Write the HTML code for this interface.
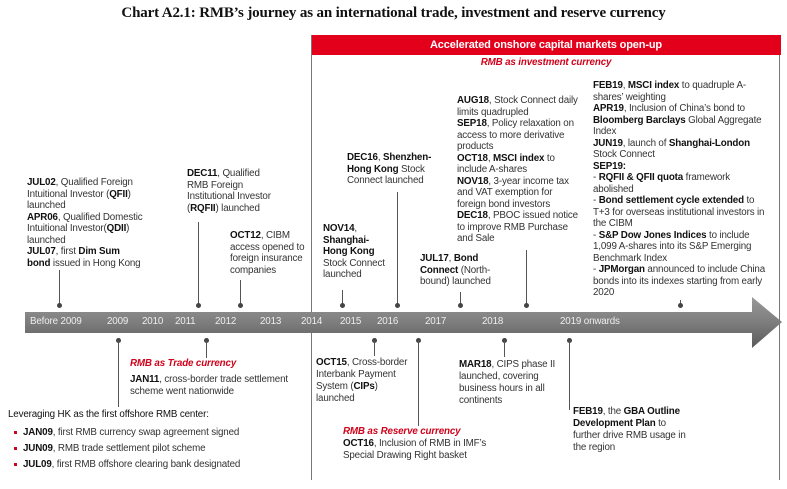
<!DOCTYPE html>
<html><head><meta charset="utf-8"><style>
body{margin:0;background:#fff;}
#c{position:relative;width:787px;height:489px;overflow:hidden;font-family:"Liberation Sans",Arial,sans-serif;font-size:9.8px;line-height:11.5px;color:#333;}
.t{position:absolute;white-space:nowrap;letter-spacing:-0.15px;}
b{color:#111;}
.r{color:#d0021b;font-style:italic;font-weight:bold;}
.v{position:absolute;width:1px;background:#555;}
.d{position:absolute;width:5px;height:5px;border-radius:50%;background:#444;}
.sq{display:inline-block;width:3px;height:3px;background:#d0021b;margin-right:6px;vertical-align:middle;}
</style></head><body><div id="c">
<div class="t" style="left:0;width:787px;top:5px;text-align:center;font-family:'Liberation Serif',serif;font-weight:bold;font-size:15px;color:#111;line-height:16px">Chart A2.1: RMB’s journey as an international trade, investment and reserve currency</div>

<div style="position:absolute;left:311px;top:35px;width:470px;height:20px;background:#e3001b"></div>
<div class="t" style="left:311px;width:470px;top:39px;text-align:center;color:#fff;font-weight:bold;font-size:11px;line-height:13px">Accelerated onshore capital markets open-up</div>
<div class="v" style="left:311px;top:35px;height:445px;background:#777"></div>
<div class="v" style="left:779px;top:55px;height:425px;background:#777"></div>
<div class="t r" style="left:311px;width:470px;top:57px;text-align:center">RMB as investment currency</div>

<svg style="position:absolute;left:0;top:0" width="787" height="489">
<defs><linearGradient id="g" x1="0" x2="0" y1="0" y2="1"><stop offset="0" stop-color="#9a9a9a"/><stop offset="0.5" stop-color="#7d7d7d"/><stop offset="1" stop-color="#5a5a5a"/></linearGradient></defs>
<polygon points="25,312 752,312 752,297 782,322 752,348 752,333 25,333" fill="url(#g)"/>
</svg>
<div class="t" style="left:30px;top:316px;color:#eee">Before 2009</div>
<div class="t" style="left:107px;top:316px;color:#eee">2009</div>
<div class="t" style="left:142px;top:316px;color:#eee">2010</div>
<div class="t" style="left:175px;top:316px;color:#eee">2011</div>
<div class="t" style="left:215px;top:316px;color:#eee">2012</div>
<div class="t" style="left:260px;top:316px;color:#eee">2013</div>
<div class="t" style="left:301px;top:316px;color:#eee">2014</div>
<div class="t" style="left:340px;top:316px;color:#eee">2015</div>
<div class="t" style="left:377px;top:316px;color:#eee">2016</div>
<div class="t" style="left:425px;top:316px;color:#eee">2017</div>
<div class="t" style="left:482px;top:316px;color:#eee">2018</div>
<div class="t" style="left:560px;top:316px;color:#eee">2019 onwards</div>

<div class="v" style="left:59px;top:270px;height:35px"></div><div class="d" style="left:57px;top:303px"></div>
<div class="v" style="left:198px;top:222px;height:83px"></div><div class="d" style="left:196px;top:303px"></div>
<div class="v" style="left:240px;top:280px;height:25px"></div><div class="d" style="left:238px;top:303px"></div>
<div class="v" style="left:342px;top:290px;height:15px"></div><div class="d" style="left:340px;top:303px"></div>
<div class="v" style="left:397px;top:192px;height:113px"></div><div class="d" style="left:395px;top:303px"></div>
<div class="v" style="left:460px;top:292px;height:13px"></div><div class="d" style="left:458px;top:303px"></div>
<div class="v" style="left:526px;top:250px;height:55px"></div><div class="d" style="left:524px;top:303px"></div>
<div class="v" style="left:680px;top:300px;height:5px"></div><div class="d" style="left:678px;top:303px"></div>

<div class="d" style="left:116px;top:338px"></div><div class="v" style="left:118px;top:340px;height:67px"></div>
<div class="d" style="left:204px;top:338px"></div><div class="v" style="left:206px;top:340px;height:18px"></div>
<div class="d" style="left:372px;top:338px"></div><div class="v" style="left:374px;top:340px;height:16px"></div>
<div class="d" style="left:416px;top:338px"></div><div class="v" style="left:418px;top:340px;height:86px"></div>
<div class="d" style="left:502px;top:338px"></div><div class="v" style="left:504px;top:340px;height:17px"></div>
<div class="d" style="left:567px;top:338px"></div><div class="v" style="left:569px;top:340px;height:70px"></div>

<div class="t" style="left:27px;top:177px"><b>JUL02</b>, Qualified Foreign<br>Intuitional Investor (<b>QFII</b>)<br>launched<br><b>APR06</b>, Qualified Domestic<br>Intuitional Investor(<b>QDII</b>)<br>launched<br><b>JUL07</b>, first <b>Dim Sum</b><br><b>bond</b> issued in Hong Kong</div>
<div class="t" style="left:187px;top:168px"><b>DEC11</b>, Qualified<br>RMB Foreign<br>Institutional Investor<br>(<b>RQFII</b>) launched</div>
<div class="t" style="left:230px;top:230px"><b>OCT12</b>, CIBM<br>access opened to<br>foreign insurance<br>companies</div>
<div class="t" style="left:323px;top:223px"><b>NOV14</b>,<br><b>Shanghai-</b><br><b>Hong Kong</b><br>Stock Connect<br>launched</div>
<div class="t" style="left:347px;top:152px"><b>DEC16</b>, <b>Shenzhen-</b><br><b>Hong Kong</b> Stock<br>Connect launched</div>
<div class="t" style="left:420px;top:253px"><b>JUL17</b>, <b>Bond</b><br><b>Connect</b> (North-<br>bound) launched</div>
<div class="t" style="left:457px;top:95px"><b>AUG18</b>, Stock Connect daily<br>limits quadrupled<br><b>SEP18</b>, Policy relaxation on<br>access to more derivative<br>products<br><b>OCT18</b>, <b>MSCI index</b> to<br>include A-shares<br><b>NOV18</b>, 3-year income tax<br>and VAT exemption for<br>foreign bond investors<br><b>DEC18</b>, PBOC issued notice<br>to improve RMB Purchase<br>and Sale</div>
<div class="t" style="left:593px;top:80px"><b>FEB19</b>, <b>MSCI index</b> to quadruple A-<br>shares’ weighting<br><b>APR19</b>, Inclusion of China’s bond to<br><b>Bloomberg Barclays</b> Global Aggregate<br>Index<br><b>JUN19</b>, launch of <b>Shanghai-London</b><br>Stock Connect<br><b>SEP19:</b><br>- <b>RQFII &amp; QFII quota</b> framework<br>abolished<br>- <b>Bond settlement cycle extended</b> to<br>T+3 for overseas institutional investors in<br>the CIBM<br>- <b>S&amp;P Dow Jones Indices</b> to include<br>1,099 A-shares into its S&amp;P Emerging<br>Benchmark Index<br>- <b>JPMorgan</b> announced to include China<br>bonds into its indexes starting from early<br>2020</div>

<div class="t r" style="left:130px;top:358px">RMB as Trade currency</div>
<div class="t" style="left:130px;top:374px;line-height:12px"><b>JAN11</b>, cross-border trade settlement<br>scheme went nationwide</div>
<div class="t" style="left:8px;top:409px;color:#111">Leveraging HK as the first offshore RMB center:</div>
<div class="t" style="left:14px;top:425px;line-height:16px"><span class="sq"></span><b>JAN09</b>, first RMB currency swap agreement signed<br><span class="sq"></span><b>JUN09</b>, RMB trade settlement pilot scheme<br><span class="sq"></span><b>JUL09</b>, first RMB offshore clearing bank designated</div>
<div class="t" style="left:316px;top:357px;line-height:12px"><b>OCT15</b>, Cross-border<br>Interbank Payment<br>System (<b>CIPs</b>)<br>launched</div>
<div class="t r" style="left:343px;top:426px">RMB as Reserve currency</div>
<div class="t" style="left:343px;top:438px"><b>OCT16</b>, Inclusion of RMB in IMF’s<br>Special Drawing Right basket</div>
<div class="t" style="left:459px;top:359px;line-height:12px"><b>MAR18</b>, CIPS phase II<br>launched, covering<br>business hours in all<br>continents</div>
<div class="t" style="left:573px;top:406px;line-height:12px"><b>FEB19</b>, the <b>GBA Outline</b><br><b>Development Plan</b> to<br>further drive RMB usage in<br>the region</div>
</div></body></html>
